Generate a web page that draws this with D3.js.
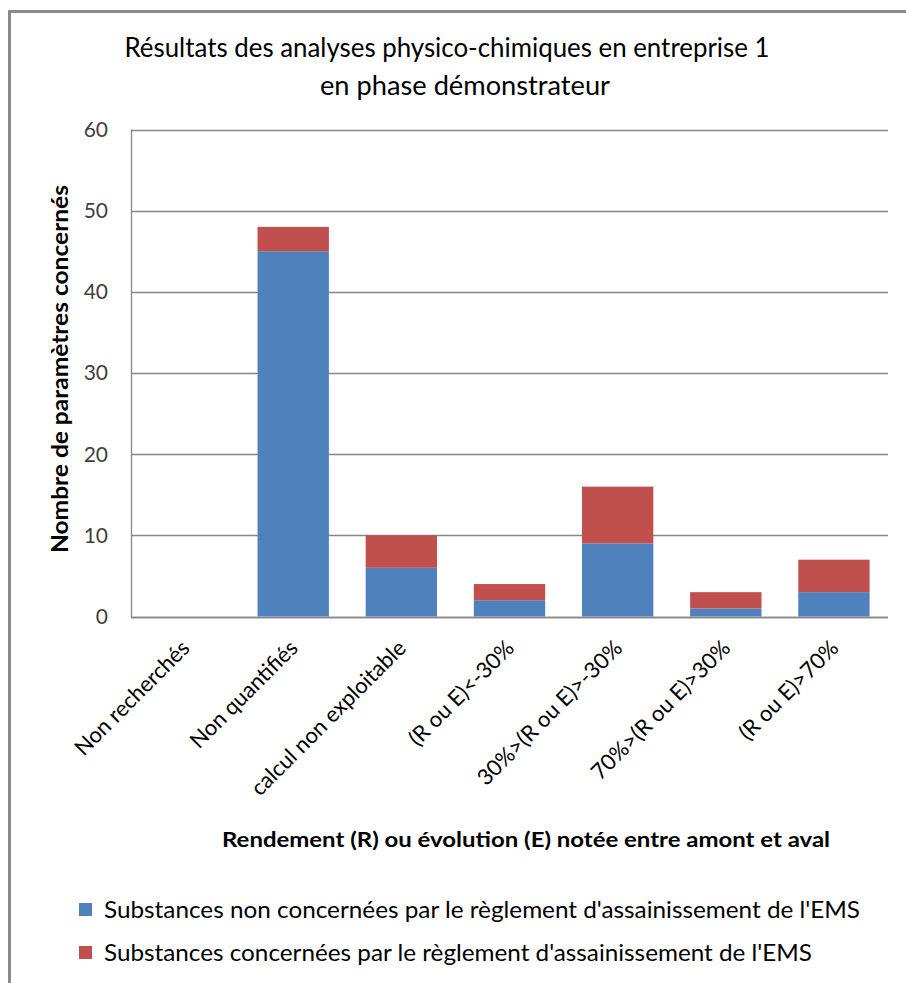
<!DOCTYPE html>
<html>
<head>
<meta charset="utf-8">
<script src="https://cdn.jsdelivr.net/npm/d3@7"></script>
<style>
  html, body { margin: 0; padding: 0; background: #fff; }
  svg { display: block; }
  text { font-family: Lato, "Open Sans", "Liberation Sans", sans-serif; }
</style>
</head>
<body>
<svg id="chart" width="906" height="983"></svg>
<script>
// Categories of yield / evolution between upstream and downstream
const categories = [
  "Non recherchés",
  "Non quantifiés",
  "calcul non exploitable",
  "(R ou E)<-30%",
  "30%>(R ou E)>-30%",
  "70%>(R ou E)>30%",
  "(R ou E)>70%"
];
// Substances not covered by the EMS sanitation regulation
const nonConcernees = [0, 45, 6, 2, 9, 1, 3];
// Substances covered by the EMS sanitation regulation
const concernees = [0, 3, 4, 2, 7, 2, 4];
const yTicks = [0, 10, 20, 30, 40, 50, 60];

const seriesNames = [
  "Substances non concernées par le règlement d'assainissement de l'EMS",
  "Substances concernées par le règlement d'assainissement de l'EMS"
];
const colors = ["#4F81BD", "#C0504D"];

const titleLines = [
  "Résultats des analyses physico-chimiques en entreprise 1",
  "en phase démonstrateur"
];
const yTitle = "Nombre de paramètres concernés";
const xTitle = "Rendement  (R) ou évolution (E) notée entre amont et aval";

const svg = d3.select("#chart");

// Outer frame (top and left edges visible)
svg.append("path")
  .attr("d", "M9.5,983 V11.5 H906")
  .attr("fill", "none")
  .attr("stroke", "#8a8a8a")
  .attr("stroke-width", 3);

const plot = { left: 131, right: 888, top: 129.5, bottom: 616.5 };

const x = d3.scaleBand()
  .domain(categories)
  .range([plot.left, plot.right])
  .paddingInner(0.34)
  .paddingOuter(0.17);

const y = d3.scaleLinear()
  .domain([0, 60])
  .range([plot.bottom, plot.top]);

// Horizontal gridlines
svg.append("g")
  .selectAll("line")
  .data(yTicks)
  .join("line")
  .attr("x1", plot.left)
  .attr("x2", plot.right)
  .attr("y1", d => Math.round(y(d)) + 0.5)
  .attr("y2", d => Math.round(y(d)) + 0.5)
  .attr("stroke", "#868686")
  .attr("stroke-width", 1.3);

// Y axis line
svg.append("line")
  .attr("x1", plot.left + 0.5).attr("x2", plot.left + 0.5)
  .attr("y1", plot.top).attr("y2", plot.bottom + 0.5)
  .attr("stroke", "#868686")
  .attr("stroke-width", 1.3);

// Y tick labels
svg.append("g")
  .selectAll("text")
  .data(yTicks)
  .join("text")
  .attr("x", 108)
  .attr("y", d => y(d))
  .attr("dy", "0.35em")
  .attr("text-anchor", "end")
  .attr("font-size", 21)
  .attr("fill", "#404040")
  .text(d => d);

// Stacked bars
const table = categories.map((c, i) => ({ cat: c, a: nonConcernees[i], b: concernees[i] }));
const stack = d3.stack().keys(["a", "b"])(table);

svg.append("g")
  .selectAll("g")
  .data(stack)
  .join("g")
  .attr("fill", (d, i) => colors[i])
  .selectAll("rect")
  .data(d => d)
  .join("rect")
  .attr("x", d => x(d.data.cat))
  .attr("width", x.bandwidth())
  .attr("y", d => y(d[1]))
  .attr("height", d => y(d[0]) - y(d[1]));

// Redraw baseline over the bars
svg.append("line")
  .attr("x1", plot.left).attr("x2", plot.right)
  .attr("y1", Math.round(y(0)) + 0.5).attr("y2", Math.round(y(0)) + 0.5)
  .attr("stroke", "#868686")
  .attr("stroke-width", 1.3);

// Rotated category labels
svg.append("g")
  .selectAll("text")
  .data(categories)
  .join("text")
  .attr("transform", d => `translate(${x(d) + x.bandwidth() / 2 + 6},${plot.bottom + 33}) rotate(-45)`)
  .attr("text-anchor", "end")
  .attr("font-size", 22)
  .attr("fill", "#000")
  .text(d => d);

// Helper: horizontal text fitted to a given length
function fitText(sel, len) {
  sel.attr("textLength", len).attr("lengthAdjust", "spacingAndGlyphs");
  return sel;
}

// Title
fitText(svg.append("text")
  .attr("x", 447).attr("y", 57)
  .attr("text-anchor", "middle")
  .attr("font-size", 26)
  .attr("fill", "#000")
  .text(titleLines[0]), 645);
fitText(svg.append("text")
  .attr("x", 465).attr("y", 95)
  .attr("text-anchor", "middle")
  .attr("font-size", 26)
  .attr("fill", "#000")
  .text(titleLines[1]), 290);

// Y axis title
fitText(svg.append("text")
  .attr("transform", "translate(68,369) rotate(-90)")
  .attr("text-anchor", "middle")
  .attr("font-size", 23)
  .attr("font-weight", "bold")
  .attr("fill", "#000")
  .text(yTitle), 368);

// X axis title
fitText(svg.append("text")
  .attr("x", 526).attr("y", 847)
  .attr("text-anchor", "middle")
  .attr("font-size", 21)
  .attr("font-weight", "bold")
  .attr("fill", "#000")
  .text(xTitle), 608);

// Legend
const legendRows = [
  { y: 910, len: 756 },
  { y: 953, len: 708 }
];
const legend = svg.append("g");
seriesNames.forEach((name, i) => {
  legend.append("rect")
    .attr("x", 79).attr("y", legendRows[i].y - 7)
    .attr("width", 13).attr("height", 13)
    .attr("fill", colors[i]);
  fitText(legend.append("text")
    .attr("x", 104).attr("y", legendRows[i].y)
    .attr("dy", "0.35em")
    .attr("font-size", 24)
    .attr("fill", "#000")
    .text(name), legendRows[i].len);
});
</script>
</body>
</html>
